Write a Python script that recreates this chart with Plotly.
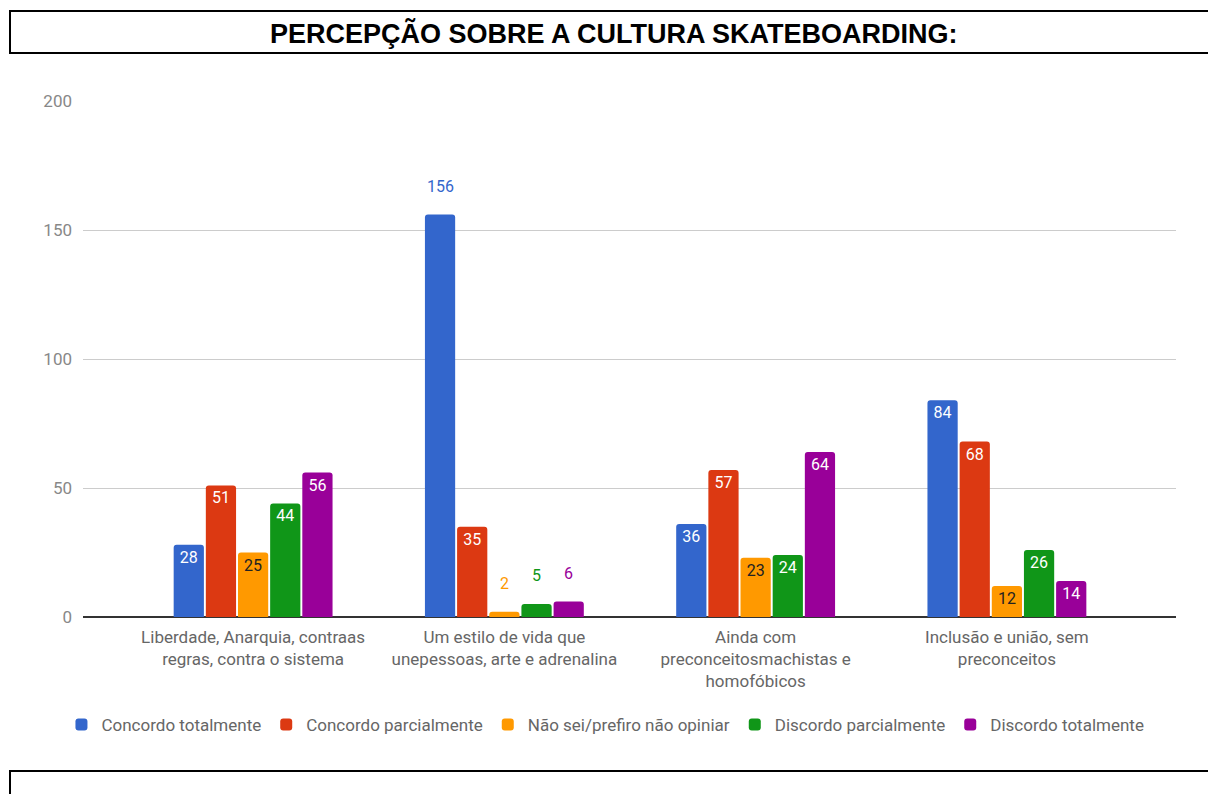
import plotly.graph_objects as go

categories = [
    "Liberdade, Anarquia, contraas<br>regras, contra o sistema",
    "Um estilo de vida que<br>unepessoas, arte e adrenalina",
    "Ainda com<br>preconceitosmachistas e<br>homofóbicos",
    "Inclusão e união, sem<br>preconceitos",
]
series_names = [
    "Concordo totalmente",
    "Concordo parcialmente",
    "Não sei/prefiro não opiniar",
    "Discordo parcialmente",
    "Discordo totalmente",
]
concordo_totalmente = [28, 156, 36, 84]
concordo_parcialmente = [51, 35, 57, 68]
nao_sei = [25, 2, 23, 12]
discordo_parcialmente = [44, 5, 24, 26]
discordo_totalmente = [56, 6, 64, 14]
series_values = [concordo_totalmente, concordo_parcialmente, nao_sei,
                 discordo_parcialmente, discordo_totalmente]

colors = ["#3366CC", "#DC3912", "#FF9900", "#109618", "#990099"]
inside_text_colors = ["#FFFFFF", "#FFFFFF", "#222222", "#FFFFFF", "#FFFFFF"]

# page layout in pixels
W, H = 1208, 794
ML, MR, MT, MB = 83, 32, 101, 177
PW, PH = W - ML - MR, H - MT - MB


def px_x(p):
    return (p - ML) / PW


def px_y(p):
    return (H - MB - p) / PH


BARGAP = 0.36
n_series = len(series_names)
slot = (1 - BARGAP) / n_series

fig = go.Figure()
annotations = []
for j, (name, vals) in enumerate(zip(series_names, series_values)):
    # values on tall enough bars sit inside the top; small ones (and the tallest) sit above
    inside = [v >= 10 and v < 150 for v in vals]
    fig.add_trace(go.Bar(
        name=name,
        x=list(range(len(categories))),
        y=vals,
        marker=dict(color=colors[j], line=dict(width=0)),
        text=[str(v) if ins else "" for v, ins in zip(vals, inside)],
        textposition="inside",
        insidetextanchor="end",
        textangle=0,
        insidetextfont=dict(family="Roboto", size=16, color=inside_text_colors[j]),
        hoverinfo="skip",
    ))
    for i, (v, ins) in enumerate(zip(vals, inside)):
        if not ins:
            annotations.append(dict(
                x=i + (j - (n_series - 1) / 2) * slot, y=v, xref="x", yref="y",
                text=str(v), showarrow=False, yanchor="bottom", yshift=17,
                font=dict(family="Roboto", size=16, color=colors[j]),
            ))

annotations.append(dict(
    x=px_x(614), y=px_y(33), xref="paper", yref="paper",
    text="<b>PERCEPÇÃO SOBRE A CULTURA SKATEBOARDING:</b>",
    showarrow=False, xanchor="center", yanchor="middle",
    font=dict(family="Liberation Sans", size=27, color="#000000"),
))

shapes = [
    dict(type="rect", xref="paper", yref="paper",
         x0=px_x(10), x1=px_x(1215), y0=px_y(53), y1=px_y(11),
         line=dict(color="#000000", width=2), fillcolor="rgba(0,0,0,0)"),
    dict(type="rect", xref="paper", yref="paper",
         x0=px_x(10), x1=px_x(1215), y0=px_y(800), y1=px_y(771),
         line=dict(color="#000000", width=2), fillcolor="rgba(0,0,0,0)"),
]

fig.update_layout(
    width=W, height=H,
    margin=dict(l=ML, r=MR, t=MT, b=MB, pad=0),
    paper_bgcolor="#FFFFFF", plot_bgcolor="#FFFFFF",
    barmode="group", bargap=BARGAP, bargroupgap=0.06, barcornerradius=3,
    showlegend=True,
    legend=dict(orientation="h", x=0.478, xanchor="center", y=px_y(725),
                yanchor="middle", font=dict(family="Roboto", size=17, color="#666666"),
                itemclick=False, itemdoubleclick=False),
    annotations=annotations, shapes=shapes,
    font=dict(family="Roboto"),
)
fig.update_xaxes(
    tickmode="array", tickvals=list(range(len(categories))), ticktext=categories,
    range=[-0.677, 3.673], showgrid=False, showline=False, zeroline=False,
    tickfont=dict(family="Roboto", size=17, color="#666666"), ticks="",
    ticklabelstandoff=8, fixedrange=True,
)
fig.update_yaxes(
    range=[0, 200], tickvals=[0, 50, 100, 150, 200], showgrid=True,
    gridcolor="#CCCCCC", gridwidth=1, zeroline=True, zerolinecolor="#333333",
    zerolinewidth=1.5, showline=False, ticks="",
    ticklabelstandoff=10,
    tickfont=dict(family="Roboto", size=17, color="#888888"), fixedrange=True,
)

fig.write_html("out.html", config={"displayModeBar": False})
